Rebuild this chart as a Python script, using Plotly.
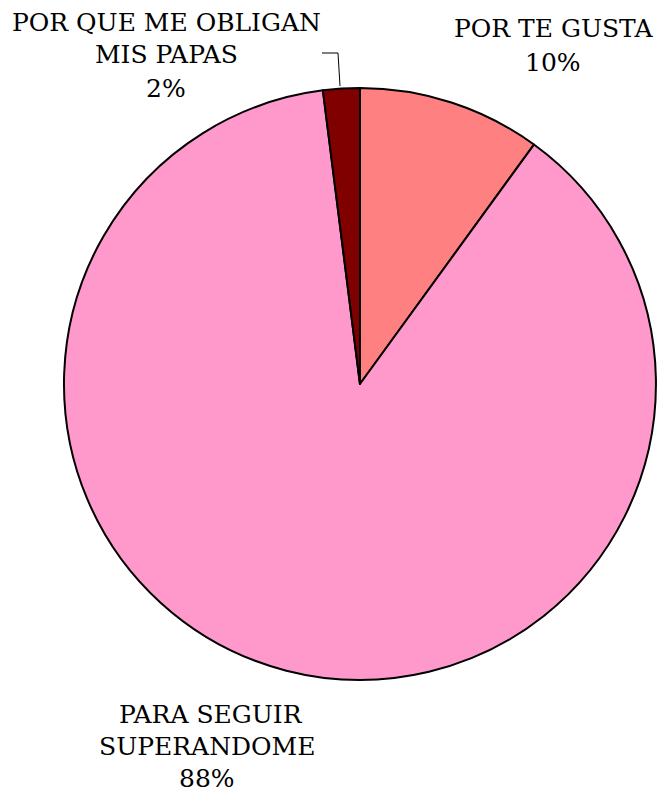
import plotly.graph_objects as go

# === Datos === #
etiquetas = ["POR TE GUSTA", "PARA SEGUIR SUPERANDOME", "POR QUE ME OBLIGAN MIS PAPAS"]
valores = [10, 88, 2]
colores = ["#FF8080", "#FF99CC", "#800000"]

W, H = 657, 792
fuente = "DejaVu Serif"

fig = go.Figure()

fig.add_trace(
    go.Pie(
        labels=etiquetas,
        values=valores,
        sort=False,
        direction="clockwise",
        rotation=0,
        textinfo="none",
        hoverinfo="label+percent",
        marker=dict(colors=colores, line=dict(color="black", width=2)),
        domain=dict(x=[0.0974, 0.9984], y=[0.1414, 0.8889]),
        showlegend=False,
    )
)

total = sum(valores)
pct = [f"{round(v * 100 / total)}%" for v in valores]


def px(x, y):
    return x / W, 1 - y / H


# etiquetas fuera del pastel, una anotacion por renglon
renglones = [
    ("POR TE GUSTA", 553, 28),
    (pct[0], 553, 62),
    ("PARA SEGUIR", 211, 714),
    ("SUPERANDOME", 207, 746),
    (pct[1], 207, 778),
    ("POR QUE ME OBLIGAN", 166, 22),
    ("MIS PAPAS", 166, 55),
    (pct[2], 166, 89),
]
for txt, x, y in renglones:
    ax, ay = px(x, y)
    fig.add_annotation(
        x=ax,
        y=ay,
        xref="paper",
        yref="paper",
        text=txt,
        showarrow=False,
        xanchor="center",
        yanchor="middle",
        align="center",
        font=dict(family=fuente, size=25, color="black"),
    )

# linea guia del 2%
x0, y0 = px(322, 53)
x1, y1 = px(338, 53)
x2, y2 = px(340, 86)
fig.add_shape(
    type="path",
    xref="paper",
    yref="paper",
    path=f"M {x0} {y0} L {x1} {y1} L {x2} {y2}",
    line=dict(color="black", width=1),
)

fig.update_layout(
    width=W,
    height=H,
    margin=dict(l=0, r=0, t=0, b=0),
    plot_bgcolor="White",
    paper_bgcolor="White",
)

fig.write_html(
    "out.html",
    config={"displayModeBar": False},
    post_script="document.body.style.margin='0px';",
)
